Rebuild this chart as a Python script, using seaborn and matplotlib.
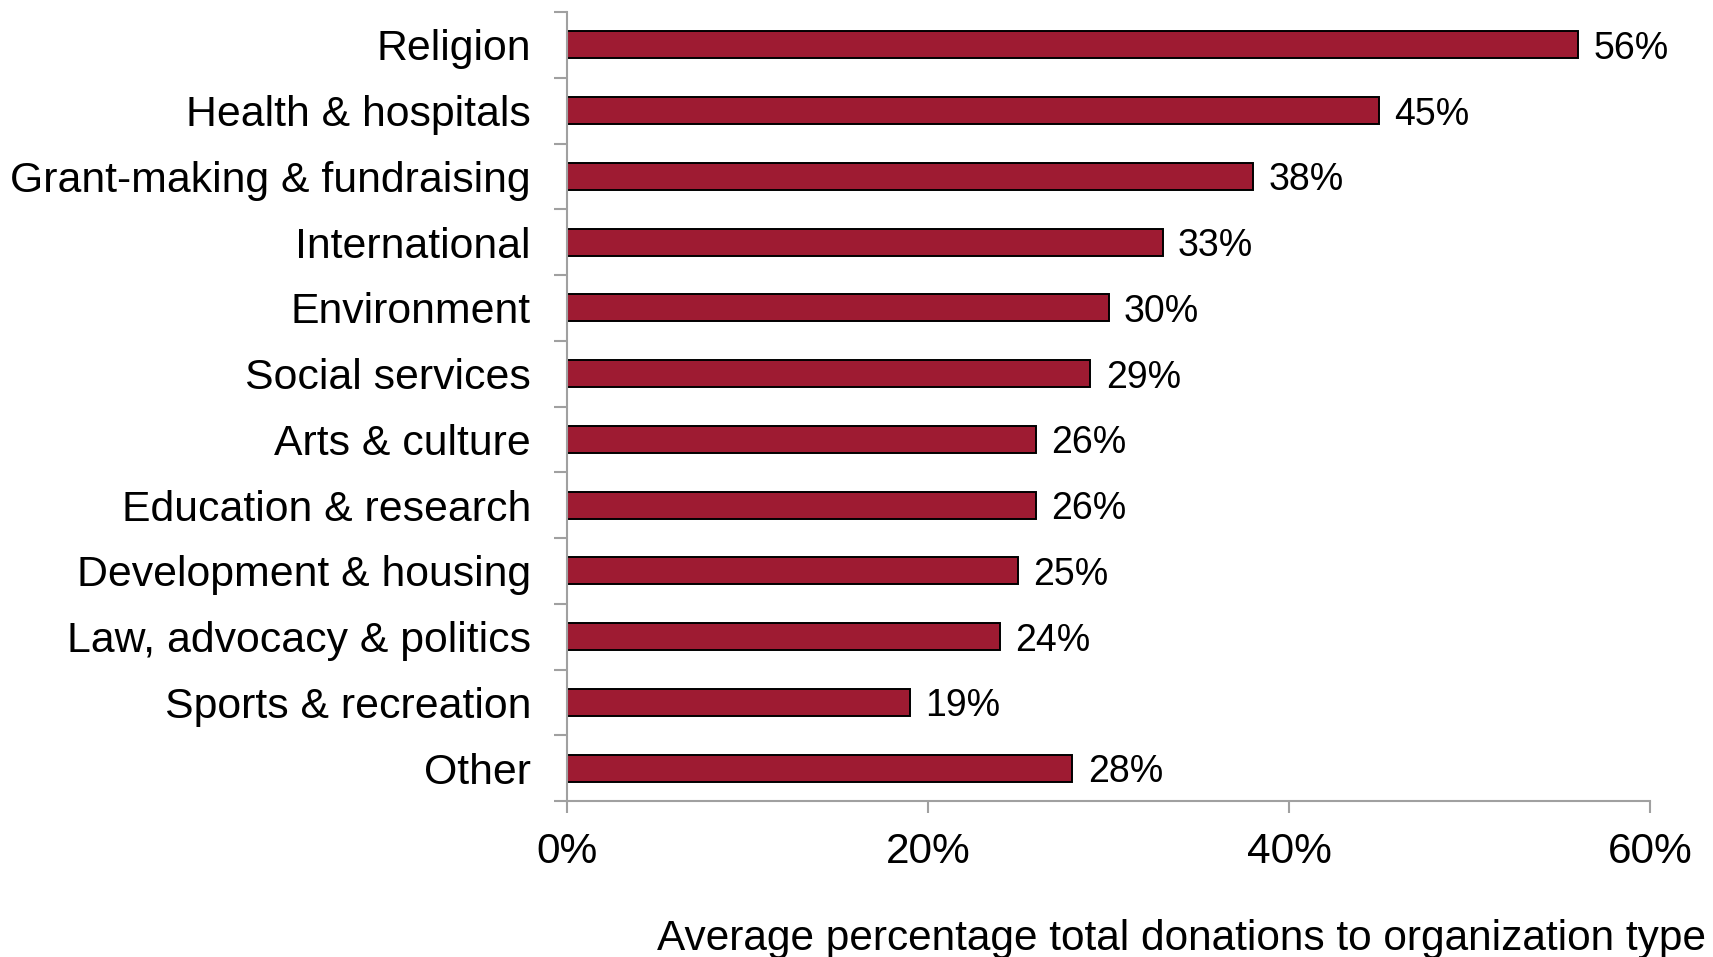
import matplotlib
matplotlib.use("Agg")
import matplotlib.pyplot as plt
import seaborn as sns
import pandas as pd
import numpy as np
from matplotlib.ticker import FixedLocator, FuncFormatter

categories = [
    "Religion", "Health & hospitals", "Grant-making & fundraising",
    "International", "Environment", "Social services", "Arts & culture",
    "Education & research", "Development & housing",
    "Law, advocacy & politics", "Sports & recreation", "Other",
]
shares = [56, 45, 38, 33, 30, 29, 26, 26, 25, 24, 19, 28]
x_ticks = [0, 20, 40, 60]
x_title = "Average percentage total donations to organization type"

sns.set_theme(style="white")
plt.rcParams["font.family"] = ["Liberation Sans", "DejaVu Sans"]
plt.rcParams["text.color"] = "black"
plt.rcParams["xtick.color"] = "black"
plt.rcParams["ytick.color"] = "black"

df = pd.DataFrame({"category": categories, "share": shares})

DPI = 100
fig = plt.figure(figsize=(17.13, 9.57), dpi=DPI)
ax = fig.add_axes([567 / 1713, 1 - 801 / 957, (1650 - 567) / 1713, (801 - 12) / 957])

bar_color = "#9E1B32"
axis_grey = "#A0A0A0"

sns.barplot(data=df, x="share", y="category", orient="h", color=bar_color,
            edgecolor="black", linewidth=1.4, width=0.41, saturation=1, ax=ax)

ax.set_xlim(0, 60)
ax.set_ylim(len(categories) - 0.5, -0.5)

# value labels to the right of each bar
for i, v in enumerate(shares):
    ax.annotate(f"{v}%", xy=(v, i), xytext=(11, 0), textcoords="offset points",
                ha="left", va="center_baseline", fontsize=27, color="black")

# axes styling
for side in ["top", "right"]:
    ax.spines[side].set_visible(False)
for side in ["left", "bottom"]:
    ax.spines[side].set_color(axis_grey)
    ax.spines[side].set_linewidth(1.5)

ax.xaxis.set_major_locator(FixedLocator(x_ticks))
ax.xaxis.set_major_formatter(FuncFormatter(lambda v, p: f"{v:.0f}%"))
ax.tick_params(axis="x", which="major", direction="out", length=8.5, width=1.5,
               color=axis_grey, labelcolor="black", labelsize=30.5, pad=14,
               bottom=True)

# category separators on the y axis
ax.yaxis.set_minor_locator(FixedLocator(np.arange(-0.5, len(categories), 1.0)))
ax.tick_params(axis="y", which="minor", direction="out", length=9.5, width=1.5,
               color=axis_grey, left=True)
ax.tick_params(axis="y", which="major", length=0, labelsize=30.8, pad=26,
               labelcolor="black")

ax.set_xlabel("")
ax.set_ylabel("")

fig.text(1706 / 1713, 1 - 950 / 957, x_title, ha="right", va="baseline",
         fontsize=30.5, color="black")

fig.savefig("out.png", dpi=DPI, facecolor="white")
